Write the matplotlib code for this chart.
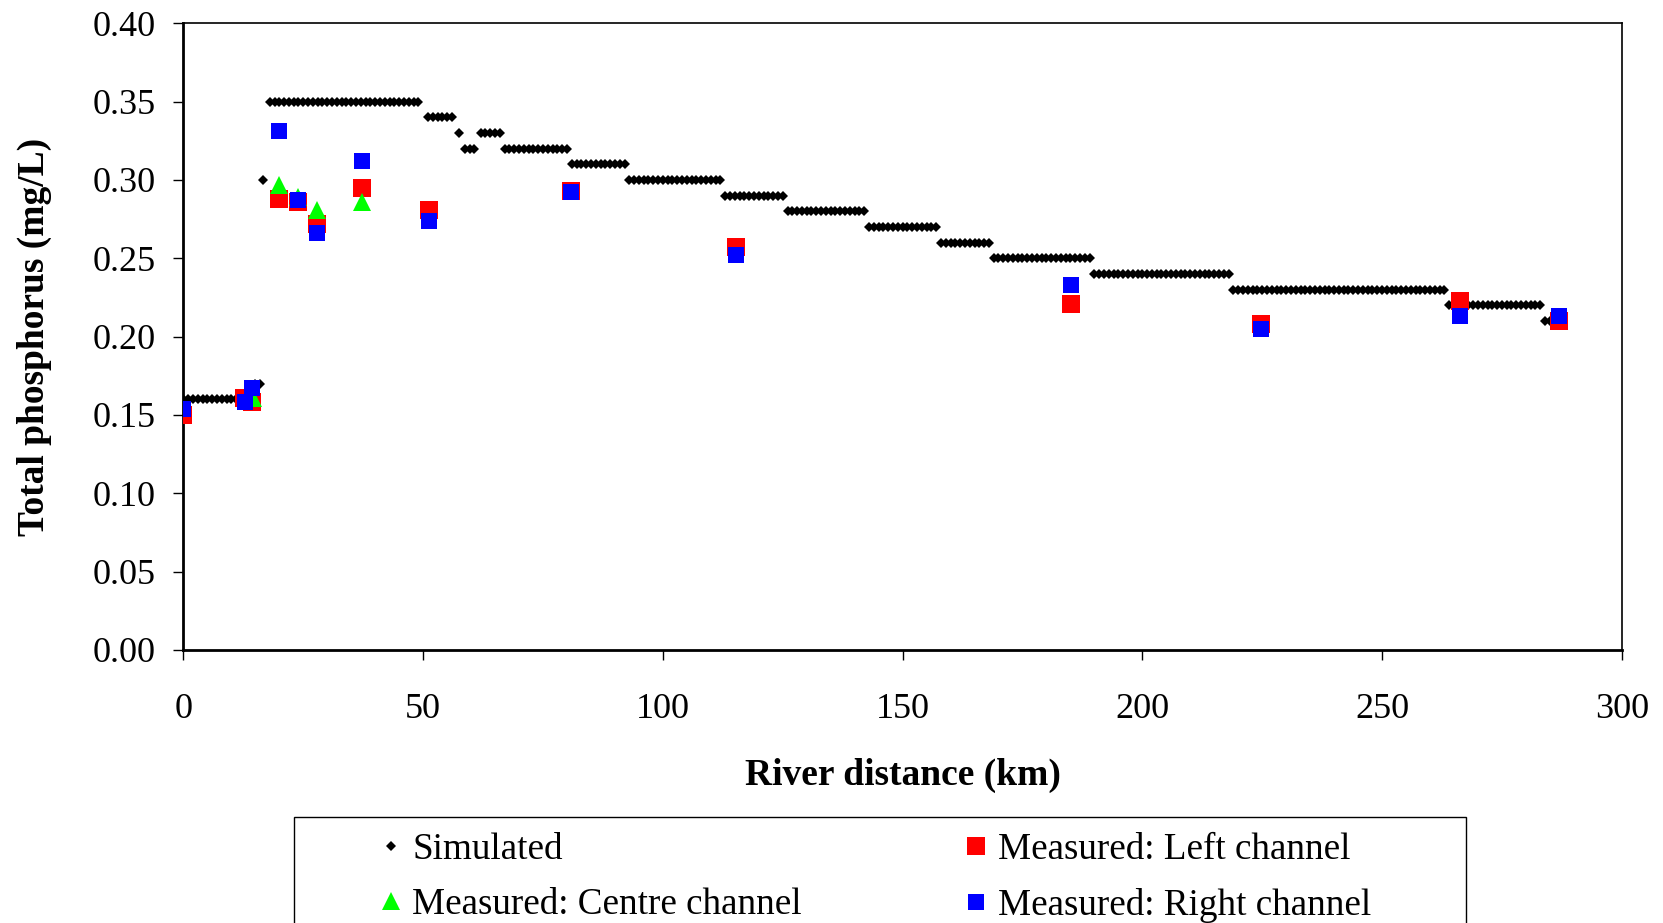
import numpy as np
import matplotlib
matplotlib.use("Agg")
import matplotlib.pyplot as plt
from matplotlib.lines import Line2D
from matplotlib.patches import Rectangle

plt.rcParams['font.family'] = ['Liberation Serif', 'DejaVu Serif']

# Simulated step profile: segments (start km, end km, level mg/L), 1 km grid
sim_start = [0, 15, 16.5, 18, 51, 57.5, 58.7, 62, 67, 81, 93, 113, 126, 143, 158, 169, 190, 219, 264, 284]
sim_end   = [14, 16, 16.5, 49, 56, 57.5, 60.7, 66, 80, 92, 112, 125, 142, 157, 168, 189, 218, 263, 283, 285]
sim_level = [0.16, 0.17, 0.30, 0.35, 0.34, 0.33, 0.32, 0.33, 0.32, 0.31, 0.30,
             0.29, 0.28, 0.27, 0.26, 0.25, 0.24, 0.23, 0.22, 0.21]

# Measured data
left_x  = [0, 12.7, 14.4, 20.0, 23.9, 27.8, 37.2, 51.3, 80.8, 115.3, 185.2, 224.8, 266.2, 287.0]
left_y  = [0.150, 0.161, 0.158, 0.288, 0.286, 0.272, 0.295, 0.281, 0.293, 0.257, 0.221, 0.208, 0.223, 0.210]
right_x = [0, 12.8, 14.4, 20.0, 23.9, 27.8, 37.2, 51.3, 80.8, 115.3, 185.2, 224.8, 266.2, 287.0]
right_y = [0.154, 0.158, 0.167, 0.331, 0.287, 0.266, 0.312, 0.274, 0.292, 0.252, 0.233, 0.205, 0.213, 0.213]
centre_x = [14.6, 20.0, 23.9, 27.8, 37.2]
centre_y = [0.161, 0.297, 0.289, 0.281, 0.286]

xticks = [0, 50, 100, 150, 200, 250, 300]
yticks = [0.00, 0.05, 0.10, 0.15, 0.20, 0.25, 0.30, 0.35, 0.40]

sim_x, sim_y = [], []
for s, e, v in zip(sim_start, sim_end, sim_level):
    xs = np.arange(s, e + 0.5, 1.0)
    sim_x.extend(xs)
    sim_y.extend([v] * len(xs))

FS = 26
FS_LAB = 27
FS_LEG = 26.7
fig = plt.figure(figsize=(16.63, 9.23), dpi=100)
ax = fig.add_axes([0.1103, 0.2958, 0.8649, 0.6790])

ax.plot(sim_x, sim_y, linestyle='none', marker='D', ms=5.2, color='black', mew=0, zorder=2)
ax.plot(left_x, left_y, linestyle='none', marker='s', ms=13.3, color='#FF0000', mew=0, zorder=3)
ax.plot(centre_x, centre_y, linestyle='none', marker='^', ms=12.5, color='#00FF00', mew=0, zorder=4)
ax.plot(right_x, right_y, linestyle='none', marker='s', ms=11, color='#0000FF', mew=0, zorder=5)

ax.set_xlim(0, 300)
ax.set_ylim(0, 0.40)
ax.set_xticks(xticks)
ax.set_yticks(yticks)
ax.set_xticklabels([str(t) for t in xticks])
ax.set_yticklabels([f"{t:.2f}" for t in yticks])
ax.tick_params(axis='both', direction='out', length=7.5, width=1.0, labelsize=FS, color='black')
ax.tick_params(axis='y', pad=12.5)
ax.tick_params(axis='x', pad=23.3)
for side in ['left', 'bottom']:
    ax.spines[side].set_linewidth(2.0)
for side in ['top', 'right']:
    ax.spines[side].set_linewidth(1.2)

ax.set_xlabel('River distance (km)', fontsize=FS_LAB, fontweight='bold', va='center')
ax.xaxis.set_label_coords(0.5, -0.1998)
ax.set_ylabel('Total phosphorus (mg/L)', fontsize=FS_LAB, fontweight='bold', va='center')
ax.yaxis.set_label_coords(-0.1033, 0.5)

# Legend
h_sim = Line2D([], [], linestyle='none', marker='D', ms=5.2, color='black', mew=0)
h_left = Line2D([], [], linestyle='none', marker='s', ms=13.3, color='#FF0000', mew=0)
h_centre = Line2D([], [], linestyle='none', marker='^', ms=12.5, color='#00FF00', mew=0)
h_right = Line2D([], [], linestyle='none', marker='s', ms=11, color='#0000FF', mew=0)

common = dict(loc='upper left', frameon=False, fontsize=FS_LEG, handlelength=0.6,
              handletextpad=0.28, labelspacing=0.55, borderpad=0, borderaxespad=0)
fig.legend([h_sim, h_centre], ['Simulated', 'Measured: Centre channel'],
           bbox_to_anchor=(0.2282, 0.0977), **common)
fig.legend([h_left, h_right], ['Measured: Left channel', 'Measured: Right channel'],
           bbox_to_anchor=(0.5803, 0.0977), **common)
fig.patches.append(Rectangle((0.1767, -0.05), 0.7048, 0.1652, transform=fig.transFigure,
                             fill=False, edgecolor='black', linewidth=1.0))

fig.savefig('out.png', dpi=100)
